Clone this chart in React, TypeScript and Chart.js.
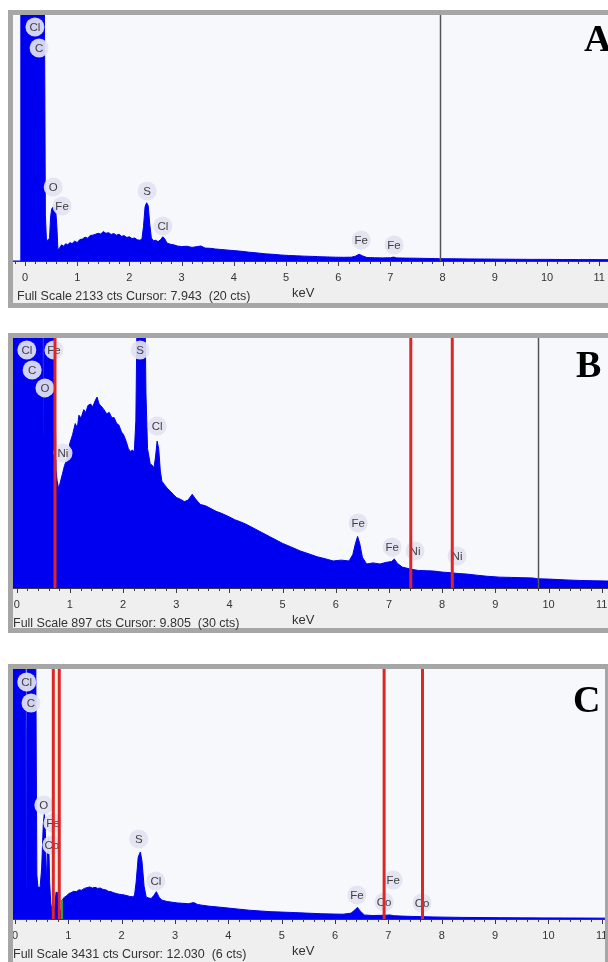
import React, { useEffect, useRef } from 'react';
import { Chart, registerables } from 'chart.js';

Chart.register(...registerables);

// ---------- shared axis ----------
const tickValues = [0, 1, 2, 3, 4, 5, 6, 7, 8, 9, 10, 11];
const tickLabels = ['0', '1', '2', '3', '4', '5', '6', '7', '8', '9', '10', '11'];

// ---------- Panel A ----------
const energyA = [-0.23, -0.09, -0.08, -0.03, 0.04, 0.12, 0.17, 0.185, 0.19, 0.195, 0.21, 0.27, 0.32, 0.36, 0.38, 0.39, 0.41, 0.44, 0.47, 0.49, 0.51, 0.54, 0.57, 0.59, 0.61, 0.63, 0.66, 0.7, 0.74, 0.78, 0.82, 0.86, 0.9, 0.95, 1.0, 1.05, 1.1, 1.15, 1.2, 1.25, 1.3, 1.35, 1.4, 1.45, 1.5, 1.55, 1.6, 1.65, 1.7, 1.75, 1.8, 1.85, 1.9, 1.95, 2.0, 2.05, 2.1, 2.15, 2.2, 2.24, 2.27, 2.3, 2.33, 2.36, 2.39, 2.42, 2.46, 2.5, 2.55, 2.6, 2.64, 2.68, 2.72, 2.78, 2.85, 2.92, 3.0, 3.1, 3.2, 3.3, 3.37, 3.45, 3.55, 3.65, 3.75, 3.85, 4.0, 4.15, 4.3, 4.45, 4.6, 4.75, 4.9, 5.05, 5.2, 5.35, 5.5, 5.65, 5.8, 5.95, 6.1, 6.25, 6.33, 6.4, 6.47, 6.55, 6.7, 6.85, 7.0, 7.06, 7.12, 7.3, 7.5, 7.7, 7.94, 8.2, 8.5, 8.8, 9.1, 9.4, 9.7, 10.0, 10.3, 10.6, 10.9, 11.2];
const countsA = [0, 0, 2600, 5200, 6400, 6000, 4500, 3000, 355, 3000, 4200, 9500, 7000, 3200, 1500, 400, 190, 175, 200, 380, 450, 470, 460, 430, 300, 100, 110, 140, 128, 150, 140, 160, 150, 172, 160, 186, 190, 207, 198, 222, 224, 232, 240, 234, 255, 240, 246, 230, 238, 224, 232, 214, 220, 204, 210, 194, 200, 184, 180, 190, 300, 470, 505, 480, 320, 200, 175, 180, 168, 186, 210, 190, 155, 146, 140, 130, 125, 128, 118, 125, 130, 112, 110, 104, 100, 96, 90, 84, 76, 70, 62, 58, 52, 48, 45, 42, 40, 37, 35, 33, 32, 33, 42, 58, 44, 30, 28, 27, 28, 34, 27, 25, 24, 22, 20, 19, 18, 17, 16, 15, 14, 14, 13, 12, 12, 11];
const fullScaleA = 2133;
const labelTextA = ['Cl', 'C', 'O', 'Fe', 'S', 'Cl', 'Fe', 'Fe'];
const labelEnergyA = [0.19, 0.27, 0.54, 0.71, 2.34, 2.64, 6.44, 7.07];
const labelCountsA = [2029, 1847, 642, 477, 607, 303, 182, 139];
const markersA: number[] = [];
const cursorA = 7.943;
const footerA = 'Full Scale 2133 cts Cursor: 7.943  (20 cts)';

// ---------- Panel B ----------
const energyB = [-0.07, -0.03, 0.0, 0.1, 0.2, 0.28, 0.36, 0.45, 0.49, 0.5, 0.51, 0.54, 0.58, 0.62, 0.66, 0.7, 0.72, 0.74, 0.76, 0.79, 0.82, 0.86, 0.9, 0.95, 1.0, 1.05, 1.1, 1.14, 1.17, 1.21, 1.26, 1.3, 1.34, 1.39, 1.43, 1.47, 1.51, 1.55, 1.6, 1.64, 1.69, 1.74, 1.79, 1.83, 1.88, 1.92, 1.97, 2.01, 2.06, 2.1, 2.14, 2.18, 2.21, 2.24, 2.27, 2.31, 2.36, 2.4, 2.43, 2.46, 2.51, 2.55, 2.58, 2.61, 2.64, 2.67, 2.7, 2.73, 2.78, 2.83, 2.9, 2.95, 3.0, 3.08, 3.15, 3.22, 3.3, 3.36, 3.45, 3.55, 3.65, 3.75, 3.85, 4.0, 4.1, 4.2, 4.3, 4.45, 4.6, 4.75, 4.9, 5.0, 5.15, 5.33, 5.5, 5.65, 5.8, 5.95, 6.1, 6.25, 6.32, 6.37, 6.41, 6.45, 6.5, 6.58, 6.7, 6.83, 6.95, 7.05, 7.1, 7.16, 7.25, 7.4, 7.55, 7.7, 7.83, 8.0, 8.15, 8.3, 8.46, 8.65, 8.85, 9.08, 9.3, 9.5, 9.7, 9.8, 10.0, 10.33, 10.6, 10.85, 11.12];
const countsB = [3000, 3500, 3800, 4000, 3000, 5000, 3500, 2000, 900, 550, 900, 2600, 2000, 1500, 1700, 1200, 700, 420, 385, 355, 380, 410, 440, 465, 520, 550, 590, 575, 620, 610, 640, 630, 655, 660, 650, 670, 685, 660, 650, 640, 625, 630, 610, 612, 590, 585, 560, 550, 525, 500, 490, 495, 485, 600, 1100, 1500, 1600, 1200, 700, 500, 445, 440, 430, 470, 527, 500, 420, 383, 370, 358, 345, 335, 325, 318, 310, 315, 336, 320, 300, 295, 285, 275, 268, 255, 245, 238, 230, 215, 200, 185, 170, 160, 148, 133, 122, 112, 105, 97, 100, 97, 120, 160, 185, 160, 110, 86, 90, 86, 92, 95, 104, 88, 75, 68, 63, 62, 61, 57, 55, 52, 50, 46, 42, 39, 38, 37, 36, 33, 32, 29, 27, 26, 25];
const fullScaleB = 897;
const labelTextB = ['Cl', 'C', 'O', 'Fe', 'Ni', 'S', 'Cl', 'Fe', 'Fe', 'Ni', 'Ni'];
const labelEnergyB = [0.19, 0.29, 0.53, 0.7, 0.87, 2.32, 2.64, 6.42, 7.06, 7.49, 8.28];
const labelCountsB = [854, 782, 718, 854, 484, 854, 581, 233, 147, 133, 115];
const markersB = [0.72, 7.41, 8.19];
const cursorB = 9.805;
const footerB = 'Full Scale 897 cts Cursor: 9.805  (30 cts)';

// ---------- Panel C ----------
const energyC = [-0.0375, 0.0, 0.05, 0.15, 0.2, 0.21, 0.22, 0.28, 0.35, 0.39, 0.41, 0.43, 0.47, 0.5, 0.53, 0.55, 0.57, 0.59, 0.61, 0.63, 0.65, 0.67, 0.7, 0.74, 0.77, 0.8, 0.83, 0.86, 0.88, 0.9, 0.93, 0.97, 1.01, 1.05, 1.1, 1.15, 1.2, 1.25, 1.3, 1.35, 1.4, 1.45, 1.5, 1.55, 1.6, 1.65, 1.7, 1.75, 1.8, 1.85, 1.9, 1.95, 2.0, 2.05, 2.1, 2.15, 2.2, 2.24, 2.27, 2.31, 2.35, 2.38, 2.42, 2.46, 2.5, 2.55, 2.6, 2.65, 2.7, 2.75, 2.85, 2.95, 3.05, 3.15, 3.25, 3.35, 3.42, 3.5, 3.65, 3.8, 4.0, 4.2, 4.4, 4.6, 4.8, 5.0, 5.17, 5.34, 5.55, 5.75, 5.97, 6.15, 6.3, 6.38, 6.42, 6.47, 6.55, 6.7, 6.85, 6.95, 7.03, 7.1, 7.25, 7.45, 7.65, 7.84, 8.1, 8.4, 8.7, 9.1, 9.5, 9.9, 10.3, 10.7, 11.06];
const countsC = [5000, 7000, 8000, 6000, 3000, 440, 2500, 12000, 7000, 3500, 600, 440, 430, 700, 1300, 1450, 1200, 490, 900, 1120, 500, 220, 80, 120, 370, 360, 150, 90, 200, 280, 300, 320, 350, 360, 380, 375, 400, 395, 420, 430, 440, 425, 435, 420, 425, 405, 400, 380, 375, 360, 350, 340, 335, 330, 320, 310, 305, 320, 500, 850, 920, 800, 450, 300, 290, 280, 320, 375, 300, 260, 240, 230, 220, 215, 210, 225, 200, 190, 175, 165, 150, 135, 120, 110, 100, 95, 90, 85, 78, 72, 68, 66, 80, 130, 160, 110, 55, 48, 50, 52, 55, 45, 40, 35, 32, 28, 25, 22, 20, 18, 16, 15, 14, 13, 12];
const fullScaleC = 3431;
const labelTextC = ['Cl', 'C', 'O', 'Fe', 'Co', 'S', 'Cl', 'Fe', 'Fe', 'Co', 'Co'];
const labelEnergyC = [0.22, 0.3, 0.54, 0.71, 0.69, 2.32, 2.64, 6.41, 7.09, 6.92, 7.63];
const labelCountsC = [3253, 2964, 1565, 1318, 1016, 1098, 522, 329, 535, 233, 220];
const markersC = [0.718, 0.83, 6.92, 7.64];
const roiC = [0.88];
const roiCountsC = [260];
const cursorC = 12.03;
const footerC = 'Full Scale 3431 cts Cursor: 12.030  (6 cts)';

type PanelProps = {
  energy: number[];
  counts: number[];
  fullScale: number;
  labelText: string[];
  labelEnergy: number[];
  labelCounts: number[];
  markers: number[];
  band?: number[];
  roi?: number[];
  roiCounts?: number[];
  cursor: number;
  footer: string;
  letter: string;
  frameTop: number;
  frameHeight: number;
  frameWidth: number;
  canvasWidth: number;
  plotH: number;
  axisH: number;
  xMin: number;
  xMax: number;
  footerLeft: number;
  letterLeft: number;
  letterCenter: number;
};

function Panel(p: PanelProps) {
  const ref = useRef<HTMLCanvasElement>(null);
  const canvasTop = p.frameTop + 5;
  const baseline = canvasTop + p.plotH;

  useEffect(() => {
    if (!ref.current) return;
    const decor = {
      id: 'edsDecor',
      beforeDatasetsDraw(chart: any) {
        const { ctx, chartArea: a } = chart;
        const x = chart.scales.x;
        ctx.save();
        ctx.fillStyle = '#f7f8fc';
        ctx.fillRect(a.left, a.top, a.right - a.left, a.bottom - a.top);
        ctx.fillStyle = '#efefef';
        ctx.fillRect(0, a.bottom, chart.width, chart.height - a.bottom);
        if (p.band) {
          const x1 = x.getPixelForValue(p.band[0]);
          const x2 = x.getPixelForValue(p.band[1]);
          ctx.fillStyle = '#fbf3dc';
          ctx.fillRect(x1, a.top, x2 - x1, a.bottom - a.top);
        }
        ctx.restore();
      },
      afterDatasetsDraw(chart: any) {
        const { ctx, chartArea: a } = chart;
        const x = chart.scales.x;
        const y = chart.scales.y;
        ctx.save();
        ctx.beginPath();
        ctx.rect(a.left, a.top, a.right - a.left, a.bottom - a.top);
        ctx.clip();
        if (p.roi && p.roiCounts) {
          ctx.strokeStyle = '#22aa44';
          ctx.lineWidth = 2;
          p.roi.forEach((e, i) => {
            const px = x.getPixelForValue(e);
            ctx.beginPath();
            ctx.moveTo(px, y.getPixelForValue(0));
            ctx.lineTo(px, y.getPixelForValue(p.roiCounts![i]));
            ctx.stroke();
          });
        }
        p.labelText.forEach((t, i) => {
          const px = x.getPixelForValue(p.labelEnergy[i]);
          const py = y.getPixelForValue(p.labelCounts[i]);
          ctx.beginPath();
          ctx.arc(px, py, 9.5, 0, Math.PI * 2);
          ctx.fillStyle = 'rgba(226,226,242,0.93)';
          ctx.fill();
          ctx.fillStyle = '#404040';
          ctx.font = '11.5px Arial, "Liberation Sans", sans-serif';
          ctx.textAlign = 'center';
          ctx.textBaseline = 'middle';
          ctx.fillText(t, px, py + 0.5);
        });
        ctx.strokeStyle = '#dd2626';
        ctx.lineWidth = 3;
        p.markers.forEach((e) => {
          const px = x.getPixelForValue(e);
          ctx.beginPath();
          ctx.moveTo(px, a.top);
          ctx.lineTo(px, a.bottom);
          ctx.stroke();
        });
        if (p.cursor >= p.xMin && p.cursor <= p.xMax) {
          const px = Math.round(x.getPixelForValue(p.cursor)) + 0.5;
          ctx.strokeStyle = '#555555';
          ctx.lineWidth = 1.5;
          ctx.beginPath();
          ctx.moveTo(px, a.top);
          ctx.lineTo(px, a.bottom);
          ctx.stroke();
        }
        ctx.restore();

        ctx.save();
        ctx.strokeStyle = '#3a3a3a';
        ctx.lineWidth = 1;
        ctx.beginPath();
        ctx.moveTo(a.left, a.bottom + 0.5);
        ctx.lineTo(a.right, a.bottom + 0.5);
        ctx.stroke();
        const i0 = Math.ceil(p.xMin / 0.2);
        const i1 = Math.floor(p.xMax / 0.2);
        for (let i = i0; i <= i1; i++) {
          const px = Math.round(x.getPixelForValue(i * 0.2)) + 0.5;
          const len = i % 5 === 0 ? 5 : 3;
          ctx.beginPath();
          ctx.moveTo(px, a.bottom);
          ctx.lineTo(px, a.bottom + len);
          ctx.stroke();
        }
        ctx.fillStyle = '#333333';
        ctx.font = '11px Arial, "Liberation Sans", sans-serif';
        ctx.textAlign = 'center';
        ctx.textBaseline = 'middle';
        tickValues.forEach((v, i) => {
          ctx.fillText(tickLabels[i], x.getPixelForValue(v), a.bottom + 17);
        });
        ctx.restore();
      },
    };

    const chart = new Chart(ref.current, {
      type: 'line',
      data: {
        datasets: [
          {
            data: p.energy.map((e, i) => ({ x: e, y: p.counts[i] })),
            fill: 'origin',
            backgroundColor: '#0000f0',
            borderColor: '#0000f0',
            borderWidth: 1,
            pointRadius: 0,
            tension: 0,
          },
        ],
      },
      options: {
        animation: false,
        responsive: false,
        maintainAspectRatio: false,
        events: [],
        layout: { padding: { left: 0, right: 0, top: 0, bottom: p.axisH } },
        plugins: { legend: { display: false }, tooltip: { enabled: false } },
        scales: {
          x: { type: 'linear', min: p.xMin, max: p.xMax, display: false },
          y: { type: 'linear', min: 0, max: p.fullScale, display: false },
        },
      },
      plugins: [decor],
    });
    return () => chart.destroy();
  }, []);

  const textFont = 'Arial, "Liberation Sans", sans-serif';
  return (
    <>
      <div
        style={{
          position: 'absolute',
          left: 8,
          top: p.frameTop,
          width: p.frameWidth,
          height: p.frameHeight,
          border: '5px solid #a6a6a6',
          boxSizing: 'border-box',
          background: '#efefef',
        }}
      />
      <canvas
        ref={ref}
        width={p.canvasWidth}
        height={p.plotH + p.axisH}
        style={{
          position: 'absolute',
          left: 13,
          top: canvasTop,
          width: p.canvasWidth,
          height: p.plotH + p.axisH,
        }}
      />
      <div
        style={{
          position: 'absolute',
          left: p.footerLeft,
          top: baseline + 35 - 8,
          font: `12.5px ${textFont}`,
          lineHeight: '16px',
          color: '#333',
          whiteSpace: 'pre',
        }}
      >
        {p.footer}
      </div>
      <div
        style={{
          position: 'absolute',
          left: 292,
          top: baseline + 32 - 8,
          font: `13px ${textFont}`,
          lineHeight: '16px',
          color: '#333',
        }}
      >
        keV
      </div>
      <div
        style={{
          position: 'absolute',
          left: p.letterLeft,
          top: p.letterCenter - 19,
          font: 'bold 38px "Liberation Serif", "Times New Roman", serif',
          lineHeight: '38px',
          color: '#000',
        }}
      >
        {p.letter}
      </div>
    </>
  );
}

export default function App() {
  return (
    <div
      style={{
        position: 'absolute',
        left: 0,
        top: 0,
        width: 608,
        height: 962,
        overflow: 'hidden',
        background: '#ffffff',
      }}
    >
      <Panel
        energy={energyA}
        counts={countsA}
        fullScale={fullScaleA}
        labelText={labelTextA}
        labelEnergy={labelEnergyA}
        labelCounts={labelCountsA}
        markers={markersA}
        cursor={cursorA}
        footer={footerA}
        letter="A"
        frameTop={10}
        frameHeight={298}
        frameWidth={615}
        canvasWidth={600}
        plotH={246}
        axisH={42}
        xMin={-0.23}
        xMax={-0.23 + 600 / 52.2}
        footerLeft={17}
        letterLeft={584}
        letterCenter={37.5}
      />
      <Panel
        energy={energyB}
        counts={countsB}
        fullScale={fullScaleB}
        labelText={labelTextB}
        labelEnergy={labelEnergyB}
        labelCounts={labelCountsB}
        markers={markersB}
        cursor={cursorB}
        footer={footerB}
        letter="B"
        frameTop={333}
        frameHeight={300}
        frameWidth={615}
        canvasWidth={600}
        plotH={250}
        axisH={40}
        xMin={-0.07}
        xMax={-0.07 + 600 / 53.18}
        footerLeft={13}
        letterLeft={576}
        letterCenter={363.5}
      />
      <Panel
        energy={energyC}
        counts={countsC}
        fullScale={fullScaleC}
        labelText={labelTextC}
        labelEnergy={labelEnergyC}
        labelCounts={labelCountsC}
        markers={markersC}
        band={[markersC[0], markersC[1]]}
        roi={roiC}
        roiCounts={roiCountsC}
        cursor={cursorC}
        footer={footerC}
        letter="C"
        frameTop={664}
        frameHeight={306}
        frameWidth={602}
        canvasWidth={592}
        plotH={250}
        axisH={46}
        xMin={-0.0375}
        xMax={-0.0375 + 592 / 53.34}
        footerLeft={13}
        letterLeft={573}
        letterCenter={698.5}
      />
    </div>
  );
}
